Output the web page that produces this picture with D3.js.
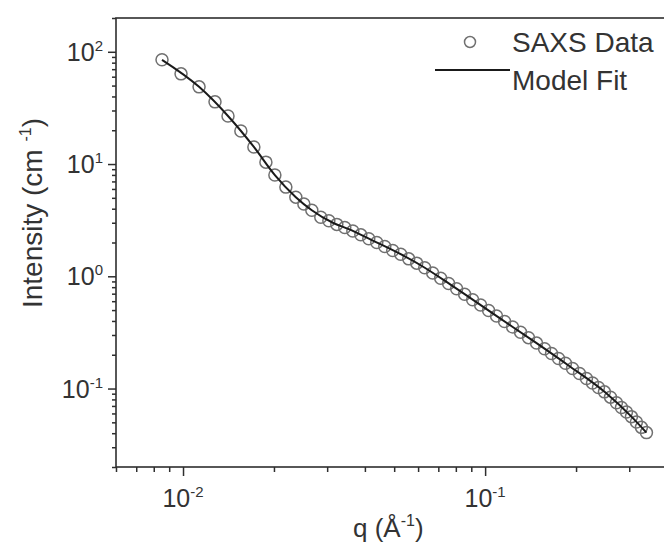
<!DOCTYPE html>
<html>
<head>
<meta charset="utf-8">
<script src="https://cdn.jsdelivr.net/npm/d3@7/dist/d3.min.js"></script>
<style>
  html, body { margin: 0; padding: 0; background: #fff; }
  svg { display: block; }
  text { font-family: "Liberation Sans", Arial, Helvetica, sans-serif; fill: #333; }
</style>
</head>
<body>
<svg id="chart" width="664" height="546"></svg>
<script>
// ---- data ----
const qData = [0.00852, 0.00985, 0.01130, 0.01276, 0.01409, 0.01554, 0.01716, 0.01881, 0.02014, 0.02190,
  0.02363, 0.02512, 0.02669, 0.02858, 0.03039, 0.03229, 0.03431, 0.03648, 0.03877, 0.04120,
  0.04379, 0.04654, 0.04945, 0.05256, 0.05586, 0.05937, 0.06310, 0.06706, 0.07127, 0.07572,
  0.08048, 0.08553, 0.09093, 0.09663, 0.1027, 0.1091, 0.1160, 0.1233, 0.1310, 0.1392,
  0.1480, 0.1573, 0.1659, 0.1750, 0.1845, 0.1947, 0.2053, 0.2165, 0.2267, 0.2372,
  0.2483, 0.2600, 0.2721, 0.2827, 0.2937, 0.3050, 0.3168, 0.3291, 0.3420];
const iData = [84.8, 63.6, 48.7, 35.8, 26.8, 19.7, 14.2, 10.4, 7.98, 6.23,
  5.07, 4.40, 3.88, 3.36, 3.12, 2.90, 2.72, 2.53, 2.34, 2.16,
  2.00, 1.84, 1.70, 1.57, 1.43, 1.31, 1.19, 1.07, 0.962, 0.864,
  0.775, 0.692, 0.619, 0.554, 0.495, 0.443, 0.396, 0.354, 0.317, 0.284,
  0.254, 0.226, 0.205, 0.185, 0.168, 0.151, 0.136, 0.123, 0.112, 0.102,
  0.0934, 0.0838, 0.0747, 0.0679, 0.0618, 0.0562, 0.0504, 0.0451, 0.0405];
const qFit = [0.00852, 0.01130, 0.01409, 0.01716, 0.02014, 0.02363, 0.02669, 0.03156, 0.03538, 0.04215,
  0.05176, 0.06118, 0.07748, 0.1108, 0.1468, 0.1888, 0.2502, 0.3050, 0.3420];
const iFit = [84.8, 48.7, 26.8, 14.2, 7.98, 5.07, 3.88, 2.97, 2.63, 2.10,
  1.605, 1.254, 0.831, 0.4305, 0.2574, 0.1605, 0.0921, 0.0562, 0.0405];
const xMajor = [0.01, 0.1];
const xMajorExp = ["-2", "-1"];
const yMajor = [0.1, 1, 10, 100];
const yMajorExp = ["-1", "0", "1", "2"];
const legendLabels = ["SAXS Data", "Model Fit"];
const xTitle = ["q (Å", "-1", ")"];
const yTitle = ["Intensity (cm ", "-1", ")"];

// ---- layout ----
const L = 116, R = 667, T = 18, B = 467;
const svg = d3.select("#chart");
const x = d3.scaleLog().domain([0.006, 0.4]).range([L, R]);
const y = d3.scaleLog().domain([0.02, 200]).range([B, T]);
const axisColor = "#2e2e2e";

// frame
svg.append("rect").attr("x", L).attr("y", T).attr("width", R - L).attr("height", B - T)
  .attr("fill", "none").attr("stroke", axisColor).attr("stroke-width", 1.6);

// minor ticks
const xMinor = x.ticks(20).filter(v => !xMajor.some(m => Math.abs(m - v) < 1e-9));
const yMinor = y.ticks(40).filter(v => !yMajor.some(m => Math.abs(m - v) < 1e-9));

const gx = svg.append("g").attr("transform", `translate(0,${B})`);
gx.call(d3.axisBottom(x).tickValues(xMinor).tickSize(5).tickFormat(""));
gx.call(g => g.select(".domain").remove());
const gx2 = svg.append("g").attr("transform", `translate(0,${B})`);
gx2.call(d3.axisBottom(x).tickValues(xMajor).tickSize(9).tickFormat(""));
gx2.call(g => g.select(".domain").remove());

const gy = svg.append("g").attr("transform", `translate(${L},0)`);
gy.call(d3.axisLeft(y).tickValues(yMinor).tickSize(4).tickFormat(""));
gy.call(g => g.select(".domain").remove());
const gy2 = svg.append("g").attr("transform", `translate(${L},0)`);
gy2.call(d3.axisLeft(y).tickValues(yMajor).tickSize(8).tickFormat(""));
gy2.call(g => g.select(".domain").remove());
svg.selectAll(".tick line").attr("stroke", axisColor).attr("stroke-width", 1.5);

// tick labels with superscripts
xMajor.forEach((v, i) => {
  const t = svg.append("text").attr("x", x(v)).attr("y", 507)
    .attr("text-anchor", "middle").attr("font-size", 25);
  t.append("tspan").text("10");
  t.append("tspan").attr("font-size", 15).attr("dy", -10).text(xMajorExp[i]);
});
yMajor.forEach((v, i) => {
  const t = svg.append("text").attr("x", 103).attr("y", y(v) + 9)
    .attr("text-anchor", "end").attr("font-size", 25);
  t.append("tspan").text("10");
  t.append("tspan").attr("font-size", 15).attr("dy", -10).text(yMajorExp[i]);
});

// axis titles
const xt = svg.append("text").attr("x", 353).attr("y", 537).attr("font-size", 26);
xt.append("tspan").text(xTitle[0]);
xt.append("tspan").attr("font-size", 16).attr("dy", -11).text(xTitle[1]);
xt.append("tspan").attr("dy", 11).text(xTitle[2]);

const yt = svg.append("text").attr("transform", "translate(42,213) rotate(-90)")
  .attr("text-anchor", "middle").attr("font-size", 28);
yt.append("tspan").text(yTitle[0]);
yt.append("tspan").attr("font-size", 16).attr("dy", -11).text(yTitle[1]);
yt.append("tspan").attr("dy", 11).text(yTitle[2]);

// data circles
const data = qData.map((q, i) => ({ q, I: iData[i] }));
svg.append("g").selectAll("circle").data(data).join("circle")
  .attr("cx", d => x(d.q)).attr("cy", d => y(d.I)).attr("r", 6)
  .attr("fill", "none").attr("stroke", "#707070").attr("stroke-width", 1.5);

// model fit
const fit = qFit.map((q, i) => ({ q, I: iFit[i] }));
svg.append("path").datum(fit)
  .attr("d", d3.line().x(d => x(d.q)).y(d => y(d.I)).curve(d3.curveMonotoneX))
  .attr("fill", "none").attr("stroke", "#1a1a1a").attr("stroke-width", 2);

// legend
svg.append("circle").attr("cx", 470).attr("cy", 42).attr("r", 5.5)
  .attr("fill", "none").attr("stroke", "#707070").attr("stroke-width", 1.5);
svg.append("text").attr("x", 512).attr("y", 52).attr("font-size", 28).text(legendLabels[0]);
svg.append("line").attr("x1", 435).attr("x2", 510).attr("y1", 70).attr("y2", 70)
  .attr("stroke", "#1a1a1a").attr("stroke-width", 2);
svg.append("text").attr("x", 512).attr("y", 90).attr("font-size", 28).text(legendLabels[1]);
</script>
</body>
</html>
